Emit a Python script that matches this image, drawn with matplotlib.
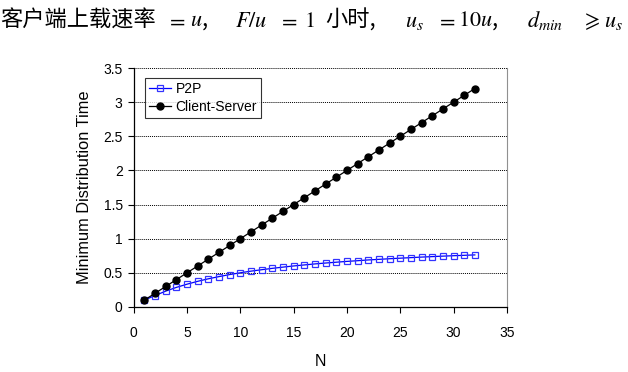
import matplotlib
matplotlib.use("Agg")
import matplotlib.pyplot as plt

# values
n_values = list(range(1, 33))
p2p_time = [0.10, 0.167, 0.231, 0.286, 0.333, 0.375, 0.412, 0.444, 0.474, 0.50,
            0.524, 0.545, 0.565, 0.583, 0.60, 0.615, 0.630, 0.643, 0.655, 0.667,
            0.677, 0.688, 0.697, 0.706, 0.714, 0.722, 0.730, 0.737, 0.744, 0.75,
            0.756, 0.762]
cs_time = [0.1, 0.2, 0.3, 0.4, 0.5, 0.6, 0.7, 0.8, 0.9, 1.0,
           1.1, 1.2, 1.3, 1.4, 1.5, 1.6, 1.7, 1.8, 1.9, 2.0,
           2.1, 2.2, 2.3, 2.4, 2.5, 2.6, 2.7, 2.8, 2.9, 3.0,
           3.1, 3.2]
x_ticks = [0, 5, 10, 15, 20, 25, 30, 35]
y_ticks = [0, 0.5, 1, 1.5, 2, 2.5, 3, 3.5]
y_tick_labels = ["0", "0.5", "1", "1.5", "2", "2.5", "3", "3.5"]
header_parts = ["客户端上载速率", "$=$", "$u$,", "$F/u$", "$=$", "$1$", "小时,",
                "$u_s$", "$=$", "$10u$,", "$d_{min}$", r"$\geqslant$", "$u_s$"]
header_x = [0, 166, 190, 235, 278, 304, 325, 405, 436, 458, 527, 581, 604]

plt.rcParams['font.family'] = ['Liberation Sans', 'DejaVu Sans']
plt.rcParams['mathtext.fontset'] = 'stix'

W, H = 628, 372
fig = plt.figure(figsize=(W / 100, H / 100), dpi=100)
ax = fig.add_axes([0.213, 0.175, 0.594, 0.642])

# header line, placed piece by piece
for txt, px in zip(header_parts, header_x):
    fig.text(px / W, 0.945, txt, fontsize=16, va='center', ha='left',
             family=['Noto Sans CJK SC', 'DejaVu Serif'])

ax.plot(n_values, p2p_time, color='#0000ff', lw=0.9, marker='s', ms=4.5,
        mfc='none', mec='#3333ff', mew=0.9, label='P2P', zorder=3)
ax.plot(n_values, cs_time, color='black', lw=0.9, marker='o', ms=5,
        mfc='black', mec='black', label='Client-Server', zorder=4)

ax.set_xlim(0, 35)
ax.set_ylim(0, 3.5)
ax.set_xticks(x_ticks)
ax.set_yticks(y_ticks)
ax.set_yticklabels(y_tick_labels)
ax.tick_params(direction='out', length=4, width=0.8, labelsize=10, pad=4)
ax.tick_params(axis='x', pad=10)

for y in y_ticks[1:]:
    ax.axhline(y, color='black', lw=0.7, ls=(0, (1, 1)), zorder=1)

ax.spines['top'].set_visible(False)
ax.spines['right'].set_color('#909090')
ax.spines['left'].set_linewidth(0.9)
ax.spines['bottom'].set_linewidth(0.9)

ax.set_xlabel('N', fontsize=11.5, labelpad=10)
ax.set_ylabel('Minimum Distribution Time', fontsize=11.8, labelpad=8)

leg = ax.legend(loc='upper left', bbox_to_anchor=(0.03, 0.96), fontsize=10,
                frameon=True, fancybox=False, edgecolor='black',
                handlelength=1.6, borderpad=0.3, labelspacing=0.3,
                handletextpad=0.3, borderaxespad=0)
leg.get_frame().set_linewidth(0.8)

fig.savefig('out.png', dpi=100)
